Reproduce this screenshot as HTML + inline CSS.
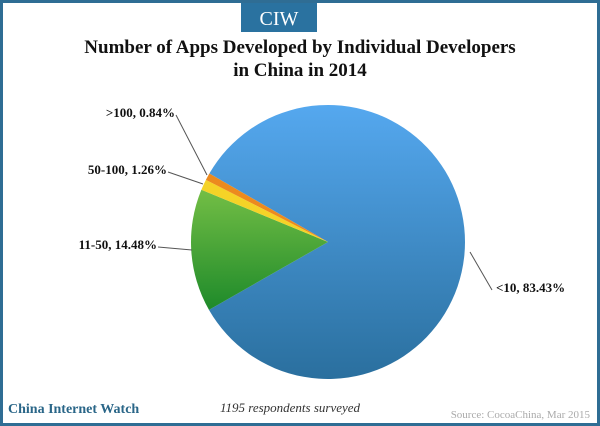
<!DOCTYPE html>
<html><head><meta charset="utf-8"><style>
body{margin:0;background:#fff}
#c{position:relative;width:600px;height:426px;overflow:hidden;font-family:"Liberation Serif",serif}
</style></head><body>
<div id="c">
<svg width="600" height="426" viewBox="0 0 600 426">
<defs>
<linearGradient id="gb" x1="0" y1="0" x2="0" y2="1"><stop offset="0" stop-color="#55a8ef"/><stop offset="1" stop-color="#2a6f9e"/></linearGradient>
<linearGradient id="gg" x1="0" y1="0" x2="0" y2="1"><stop offset="0" stop-color="#73be45"/><stop offset="1" stop-color="#1e8a2a"/></linearGradient>
</defs>
<rect x="1.5" y="1.5" width="597" height="423" fill="#fff" stroke="#2f6d94" stroke-width="3"/>
<rect x="241" y="3" width="76" height="29" fill="#2a72a0"/>
<text x="279" y="25" text-anchor="middle" font-size="20" fill="#fff">CIW</text>
<text x="300" y="53" text-anchor="middle" font-size="19" font-weight="bold" fill="#111">Number of Apps Developed by Individual Developers</text>
<text x="300" y="76" text-anchor="middle" font-size="19" font-weight="bold" fill="#111">in China in 2014</text>
<g id="pie"></g>
<g id="labels"></g>
<text x="8" y="413" font-size="14" font-weight="bold" fill="#2a6688">China Internet Watch</text>
<text x="290" y="412" text-anchor="middle" font-size="13" font-style="italic" fill="#333">1195 respondents surveyed</text>
<text x="590" y="418" text-anchor="end" font-size="11" fill="#aaa">Source: CocoaChina, Mar 2015</text>
</svg>
</div>
<script>
const categories=["<10","11-50","50-100",">100"];
const values=[83.43,14.48,1.26,0.84];
const fills=["url(#gb)","url(#gg)","#f5d327","#ec8a1e"];
const cx=328,cy=242,r=137,start=-60;
const labelPos=[[493,292,"start",470,252],[157,249,"end",192,250],[167,174,"end",203,184],[175,117,"end",207,175]];
const ns="http://www.w3.org/2000/svg";
const pie=document.getElementById('pie'),lg=document.getElementById('labels');
const total=values.reduce((a,b)=>a+b,0);
function pt(a,rr){const t=a*Math.PI/180;return [cx+rr*Math.sin(t),cy-rr*Math.cos(t)];}
let a=start;
values.forEach((v,i)=>{
  const sw=v/total*360,a2=a+sw;
  const p1=pt(a,r),p2=pt(a2,r);
  const p=document.createElementNS(ns,'path');
  p.setAttribute('d',`M${cx},${cy}L${p1[0]},${p1[1]}A${r},${r} 0 ${sw>180?1:0} 1 ${p2[0]},${p2[1]}Z`);
  p.setAttribute('fill',fills[i]);
  
  
  pie.appendChild(p);
  const lp=labelPos[i];
  const ln=document.createElementNS(ns,'polyline');
  const lx=lp[2]=="end"?lp[0]+1:lp[0]-1;
  ln.setAttribute('points',`${lp[3]},${lp[4]} ${lx},${lp[1]-2} ${lx+(lp[2]=="end"?-1:1)*0},${lp[1]-2}`);
  ln.setAttribute('fill','none');ln.setAttribute('stroke','#555');ln.setAttribute('stroke-width','1');
  
  
  lg.appendChild(ln);
  const t=document.createElementNS(ns,'text');
  t.setAttribute('x',lp[2]=="end"?lp[0]:lp[0]+3);t.setAttribute('y',lp[1]);
  t.setAttribute('text-anchor',lp[2]);t.setAttribute('font-size','13');t.setAttribute('font-weight','bold');t.setAttribute('fill','#111');
  t.textContent=categories[i]+", "+v.toFixed(2)+"%";
  
  
  lg.appendChild(t);
  a=a2;
});
</script>
</body></html>
